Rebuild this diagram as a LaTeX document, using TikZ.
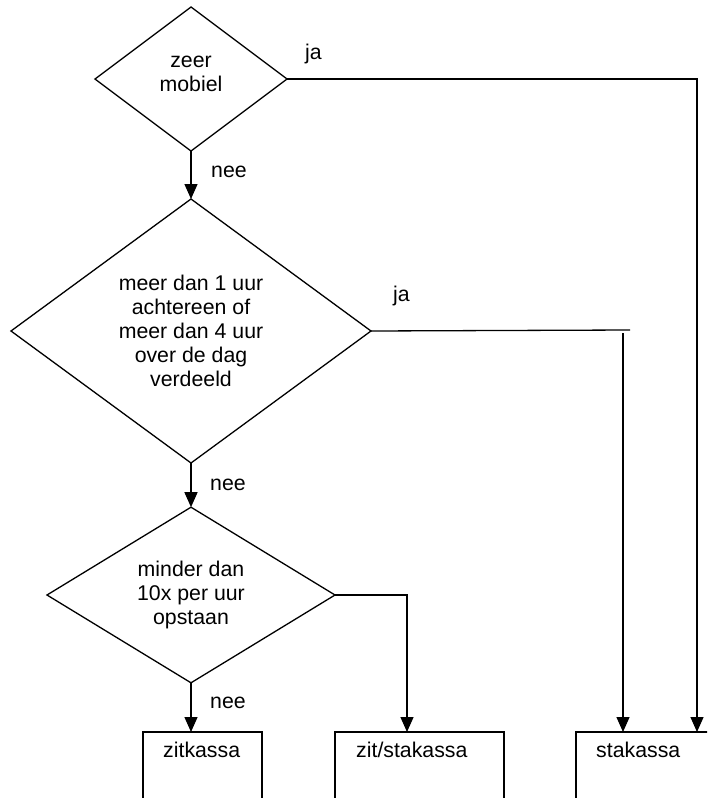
\documentclass[tikz,border=0pt]{standalone}
\usepackage{fontspec}
\setmainfont{Liberation Sans}
\usetikzlibrary{shapes.geometric,arrows.meta}
\begin{document}
\begin{tikzpicture}[x=1pt,y=-1pt,
  every node/.style={font=\fontsize{21.3}{24}\selectfont},
  line/.style={line width=1.3pt},
  arr/.style={line, -{Triangle[length=15pt,width=13pt]}},
  dec/.style={draw, line width=1.3pt, diamond, inner sep=0pt, outer sep=0pt, align=center},
  box/.style={draw, line width=1.3pt, rectangle, inner sep=0pt, outer sep=0pt, anchor=north west},
  lbl/.style={anchor=base west, inner sep=0pt}]
\useasboundingbox (0,0) rectangle (707,798);
\clip (0,0) rectangle (707,798);
% decisions
\node[dec, minimum width=192pt, minimum height=144pt] (d1) at (191,79) {zeer\\mobiel\rule[-10pt]{0pt}{0pt}};
\node[dec, minimum width=360pt, minimum height=264pt] (d2) at (191,331) {meer dan 1 uur\\achtereen of\\meer dan 4 uur\\over de dag\\verdeeld};
\node[dec, minimum width=288pt, minimum height=168pt] (d3) at (191,595) {minder dan\\10x per uur\\opstaan};
% boxes
\node[box, minimum width=119pt, minimum height=100pt] (zk) at (143,732) {};
\node[box, minimum width=169pt, minimum height=100pt] (zs) at (335,732) {};
\node[box, minimum width=160pt, minimum height=100pt] (sk) at (576,732) {};
\node[lbl] (tzk) at (163,757) {zitkassa};
\node[lbl] (tzs) at (356,757) {zit/stakassa};
\node[lbl] (tsk) at (596,757) {stakassa};
% labels
\node[lbl] (ja1) at (305,59) {ja};
\node[lbl] (ja2) at (393,301) {ja};
\node[lbl] (nee1) at (211,177) {nee};
\node[lbl] (nee2) at (210,490) {nee};
\node[lbl] (nee3) at (210,708) {nee};
% connectors
\draw[arr] (d1.south) -- (d2.north);
\draw[arr] (d2.south) -- (d3.north);
\draw[arr] (d3.south) -- (zk.north -| d3.south);
\coordinate (c1) at (697,79);
\draw[arr] (d1.east) -- (c1) -- (c1 |- sk.north);
\coordinate (c2) at (630,330);
\draw[line] (d2.east) -- (c2);
\coordinate (c3) at (623,333);
\draw[arr] (c3) -- (c3 |- sk.north);
\coordinate (c4) at (407,595);
\draw[arr] (d3.east) -- (c4) -- (c4 |- zs.north);
\end{tikzpicture}
\end{document}
